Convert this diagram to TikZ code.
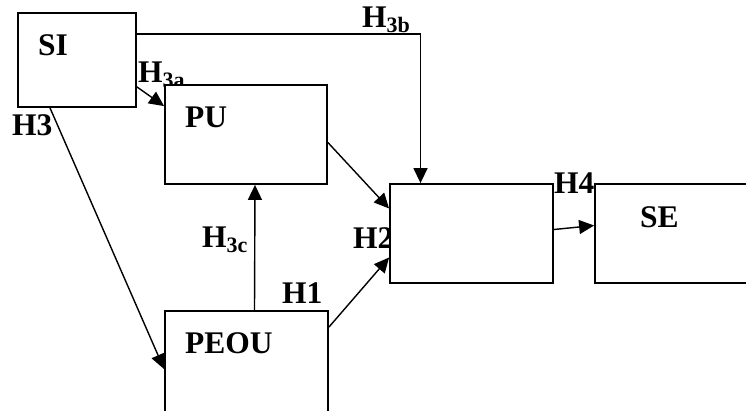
\documentclass[tikz,border=0pt]{standalone}
\usepackage{fontspec}
\setmainfont{Liberation Serif}
\usetikzlibrary{arrows.meta, calc}
\newcommand{\Hsub}[1]{H\raisebox{-5pt}{\fontsize{22}{22}\selectfont #1}}

\begin{document}
\begin{tikzpicture}[x=1pt, y=-1pt, >={Triangle[length=15pt, width=14pt]},
  box/.style={draw, fill=white, line width=1.8pt, inner sep=0pt, minimum width=163pt, minimum height=99pt},
  tag/.style={anchor=base west, inner sep=0pt, font=\fontsize{31.5}{34}\selectfont\bfseries},
  link/.style={->, line width=1.4pt}]
  \useasboundingbox (0,0) rectangle (746,410);
  \clip (0,0) rectangle (746,410);
  % hypothesis labels
  \node[tag] (h3b) at (362,27) {\Hsub{3b}};
  \node[tag] (h3a) at (138,82) {\Hsub{3a}};
  \node[tag] (h3) at (12,135) {H3};
  \node[tag] (h3c) at (202,247) {\Hsub{3c}};
  \node[tag] (h2) at (353,248) {H2};
  \node[tag] (h4) at (554,193) {H4};
  \node[tag] (h1) at (282,303) {H1};
  % constructs
  \node[box, minimum width=118pt, minimum height=94pt] (si) at (77,60) {};
  \node[box, minimum width=162pt] (pu) at (246,134.5) {};
  \node[box] (mid) at (471.5,233.5) {};
  \node[box, minimum width=164pt] (se) at (677,233.5) {};
  \node[box, minimum height=106pt] (peou) at (246.5,364) {};
  \node[tag] (si-t) at (38,55) {SI};
  \node[tag] (pu-t) at (185,127) {PU};
  \node[tag] (se-t) at (640,227) {SE};
  \node[tag] (peou-t) at (185,353) {PEOU};
  % paths
  \draw[link] ([yshift=-22pt]si.north east) -| ([xshift=-51pt]mid.north);
  \draw[link] ([yshift=21pt]si.south east) -- ([yshift=-22pt]pu.north west);
  \draw[link] ([xshift=-27pt]si.south) -- ([yshift=-59pt]peou.north west);
  \draw[link] ([yshift=-8pt]pu.east) -- ([yshift=25pt]mid.west);
  \draw[link] ([yshift=-17pt]peou.north east) -- ([yshift=-24pt]mid.west);
  \draw[link] ([xshift=8pt]peou.north) -- ([xshift=9pt]pu.south);
  \draw[link] ([yshift=4pt]mid.east) -- ([yshift=8pt]se.west);
\end{tikzpicture}
\end{document}
